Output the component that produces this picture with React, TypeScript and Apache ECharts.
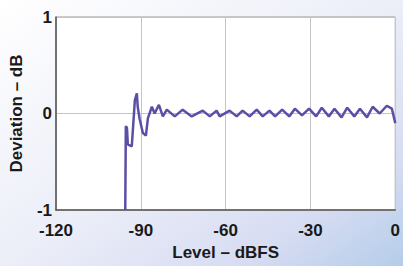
import React, { useEffect, useRef } from "react";
import * as echarts from "echarts";

const xTicks = [-120, -90, -60, -30, 0];
const yTicks = [-1, 0, 1];

const levels = [
  -95.5, -95.3, -94.9, -94.6, -93.2, -92.1, -91.4, -91.1, -90.4, -89.3, -88.2,
  -87.5, -86.1, -85.1, -83.6, -82.2, -80.8, -78.0, -75.2, -72.0, -68.1, -65.6,
  -63.2, -62.1, -58.6, -56.1, -54.0, -51.5, -49.0, -46.9, -44.5, -42.5, -40.0,
  -37.5, -35.5, -33.0, -30.5, -28.0, -26.0, -23.5, -21.5, -19.0, -17.0, -14.5,
  -12.5, -10.0, -8.0, -5.5, -3.0, -1.2, 0.0,
];
const deviations = [
  -1.0, -0.13, -0.15, -0.32, -0.34, 0.14, 0.21, 0.07, -0.06, -0.2, -0.23,
  -0.05, 0.07, 0.0, 0.09, -0.03, 0.04, -0.03, 0.04, -0.03, 0.03, -0.03,
  0.03, -0.03, 0.03, -0.03, 0.03, -0.03, 0.04, -0.03, 0.03, -0.03, 0.04,
  -0.03, 0.05, -0.02, 0.05, -0.03, 0.06, -0.03, 0.05, -0.04, 0.06, -0.03,
  0.05, -0.04, 0.07, 0.0, 0.08, 0.05, -0.1,
];

export default function App() {
  const ref = useRef<HTMLDivElement>(null);
  useEffect(() => {
    if (!ref.current) return;
    const chart = echarts.init(ref.current, undefined, { renderer: "svg" });
    const font = "'Liberation Sans', Arial, sans-serif";
    chart.setOption({
      animation: false,
      backgroundColor: new echarts.graphic.LinearGradient(0, 0, 1, 1, [
        { offset: 0, color: "#ffffff" },
        { offset: 0.5, color: "#eceef8" },
        { offset: 0.8, color: "#d6dcf2" },
        { offset: 1, color: "#b4cdea" },
      ]),
      grid: {
        left: 56,
        right: 7,
        top: 17,
        bottom: 53,
        show: true,
        backgroundColor: "#ffffff",
        borderColor: "#9a9a9a",
        borderWidth: 1,
      },
      xAxis: {
        type: "value",
        min: xTicks[0],
        max: xTicks[xTicks.length - 1],
        interval: 30,
        name: "Level – dBFS",
        nameLocation: "middle",
        nameGap: 34,
        nameTextStyle: { fontFamily: font, fontWeight: "bold", fontSize: 17, color: "#1a1a1a" },
        axisLine: { show: true, onZero: false, lineStyle: { color: "#555", width: 1.5 } },
        axisTick: { show: false },
        axisLabel: {
          margin: 12,
          fontFamily: font,
          fontWeight: "bold",
          fontSize: 17,
          color: "#1a1a1a",
        },
        splitLine: { show: true, lineStyle: { color: "#c4c4c4", width: 1 } },
      },
      yAxis: {
        type: "value",
        min: yTicks[0],
        max: yTicks[yTicks.length - 1],
        interval: 1,
        name: "Deviation – dB",
        nameLocation: "middle",
        nameGap: 31,
        nameTextStyle: { fontFamily: font, fontWeight: "bold", fontSize: 17, color: "#1a1a1a" },
        axisLine: { show: true, onZero: false, lineStyle: { color: "#555", width: 1.5 } },
        axisTick: { show: false },
        axisLabel: {
          margin: 4,
          fontFamily: font,
          fontWeight: "bold",
          fontSize: 17,
          color: "#1a1a1a",
        },
        splitLine: { show: true, lineStyle: { color: "#c4c4c4", width: 1 } },
      },
      series: [
        {
          type: "line",
          data: levels.map((l, i) => [l, deviations[i]]),
          showSymbol: false,
          lineStyle: { color: "#5a4fa6", width: 2.5 },
          clip: true,
        },
      ],
    });
    return () => chart.dispose();
  }, []);
  return <div ref={ref} style={{ width: 403, height: 266, position: "absolute", left: 0, top: 0 }} />;
}
